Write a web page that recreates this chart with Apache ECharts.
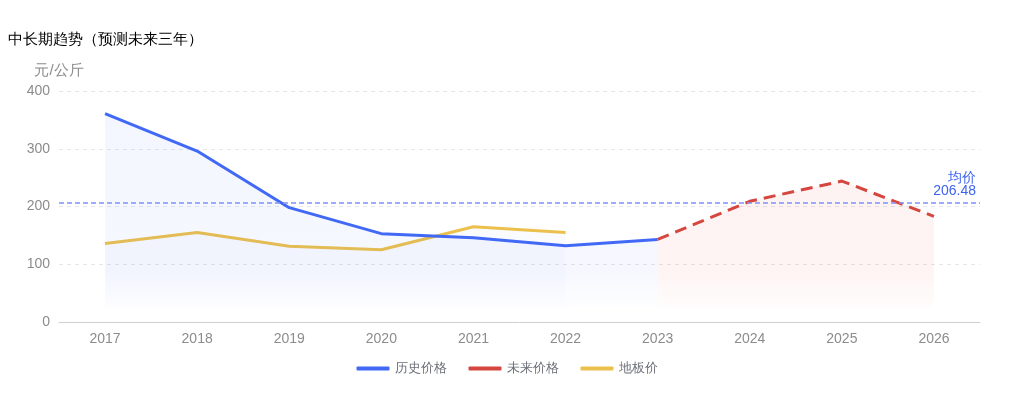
<!DOCTYPE html>
<html>
<head>
<meta charset="utf-8">
<script src="https://cdn.jsdelivr.net/npm/echarts@6/dist/echarts.min.js"></script>
<style>
html,body{margin:0;padding:0;background:#fff;}
#c{width:1014px;height:395px;}
</style>
</head>
<body>
<div id="c"></div>
<script>
const years = ['2017','2018','2019','2020','2021','2022','2023','2024','2025','2026'];
const historyPrice = [361, 296, 198, 153, 146, 132, 143, null, null, null];
const futurePrice = [null, null, null, null, null, null, 143, 209, 244, 183];
const floorPrice = [136, 155, 131, 125, 165, 155, null, null, null, null];
const avgPrice = 206.48;
const yTicks = [0, 100, 200, 300, 400];

function grad(r, g, b, a) {
  return {
    type: 'linear', x: 0, y: 90, x2: 0, y2: 322, global: true,
    colorStops: [
      { offset: 0, color: `rgba(${r},${g},${b},${a})` },
      { offset: 0.78, color: `rgba(${r},${g},${b},${a * 0.8})` },
      { offset: 0.935, color: `rgba(${r},${g},${b},${a * 0.15})` },
      { offset: 0.94, color: `rgba(${r},${g},${b},0)` },
      { offset: 1, color: `rgba(${r},${g},${b},0)` }
    ]
  };
}

const chart = echarts.init(document.getElementById('c'), null, { renderer: 'canvas' });
chart.setOption({
  animation: false,
  backgroundColor: '#fff',
  title: {
    text: '中长期趋势（预测未来三年）',
    left: 3, top: 27,
    textStyle: { fontSize: 15, fontWeight: 'normal', color: '#000' }
  },
  legend: {
    bottom: 15, left: 'center',
    itemWidth: 33, itemHeight: 4, itemGap: 22,
    icon: 'roundRect',
    textStyle: { fontSize: 13, color: '#6e7079' },
    data: ['历史价格', '未来价格', '地板价']
  },
  grid: { left: 59, right: 34, top: 91, bottom: 73 },
  xAxis: {
    type: 'category',
    data: years,
    boundaryGap: true,
    axisLine: { lineStyle: { color: '#cfcfcf' } },
    axisTick: { lineStyle: { color: '#cfcfcf' } },
    axisLabel: { fontSize: 14, color: '#8c8c8c', margin: 10 }
  },
  yAxis: {
    type: 'value',
    min: yTicks[0], max: yTicks[yTicks.length - 1], interval: 100,
    name: '元/公斤',
    nameGap: 13,
    nameTextStyle: { fontSize: 15, color: '#8c8c8c', align: 'center' },
    axisLine: { show: false },
    axisTick: { show: false },
    axisLabel: { fontSize: 14, color: '#8c8c8c', margin: 9 },
    splitLine: { lineStyle: { color: '#e6e6e6', type: [4, 4] } }
  },
  series: [
    {
      name: '历史价格', type: 'line', data: historyPrice,
      showSymbol: false, symbol: 'none',
      color: '#4169f6',
      lineStyle: { width: 3, color: '#4169f6' },
      areaStyle: { color: grad(65, 105, 246, 0.085) },
      markLine: {
        silent: true, symbol: 'none',
        lineStyle: { color: '#7f93f6', type: [5, 3], width: 1.5 },
        label: {
          position: 'insideEndTop',
          formatter: '均价\n' + avgPrice,
          color: '#3f63ee', fontSize: 14, lineHeight: 13, distance: [4, 5]
        },
        data: [{ yAxis: avgPrice }]
      },
      z: 3
    },
    {
      name: '未来价格', type: 'line', data: futurePrice,
      showSymbol: false, symbol: 'none',
      color: '#d4463e',
      lineStyle: { width: 3, color: '#d4463e', type: [12, 7] },
      areaStyle: { color: grad(236, 90, 80, 0.12) },
      z: 2
    },
    {
      name: '地板价', type: 'line', data: floorPrice,
      showSymbol: false, symbol: 'none',
      color: '#ebc04c',
      lineStyle: { width: 3, color: '#ebc04c' },
      areaStyle: { color: grad(65, 105, 246, 0.045) },
      z: 2
    }
  ]
});
</script>
</body>
</html>
